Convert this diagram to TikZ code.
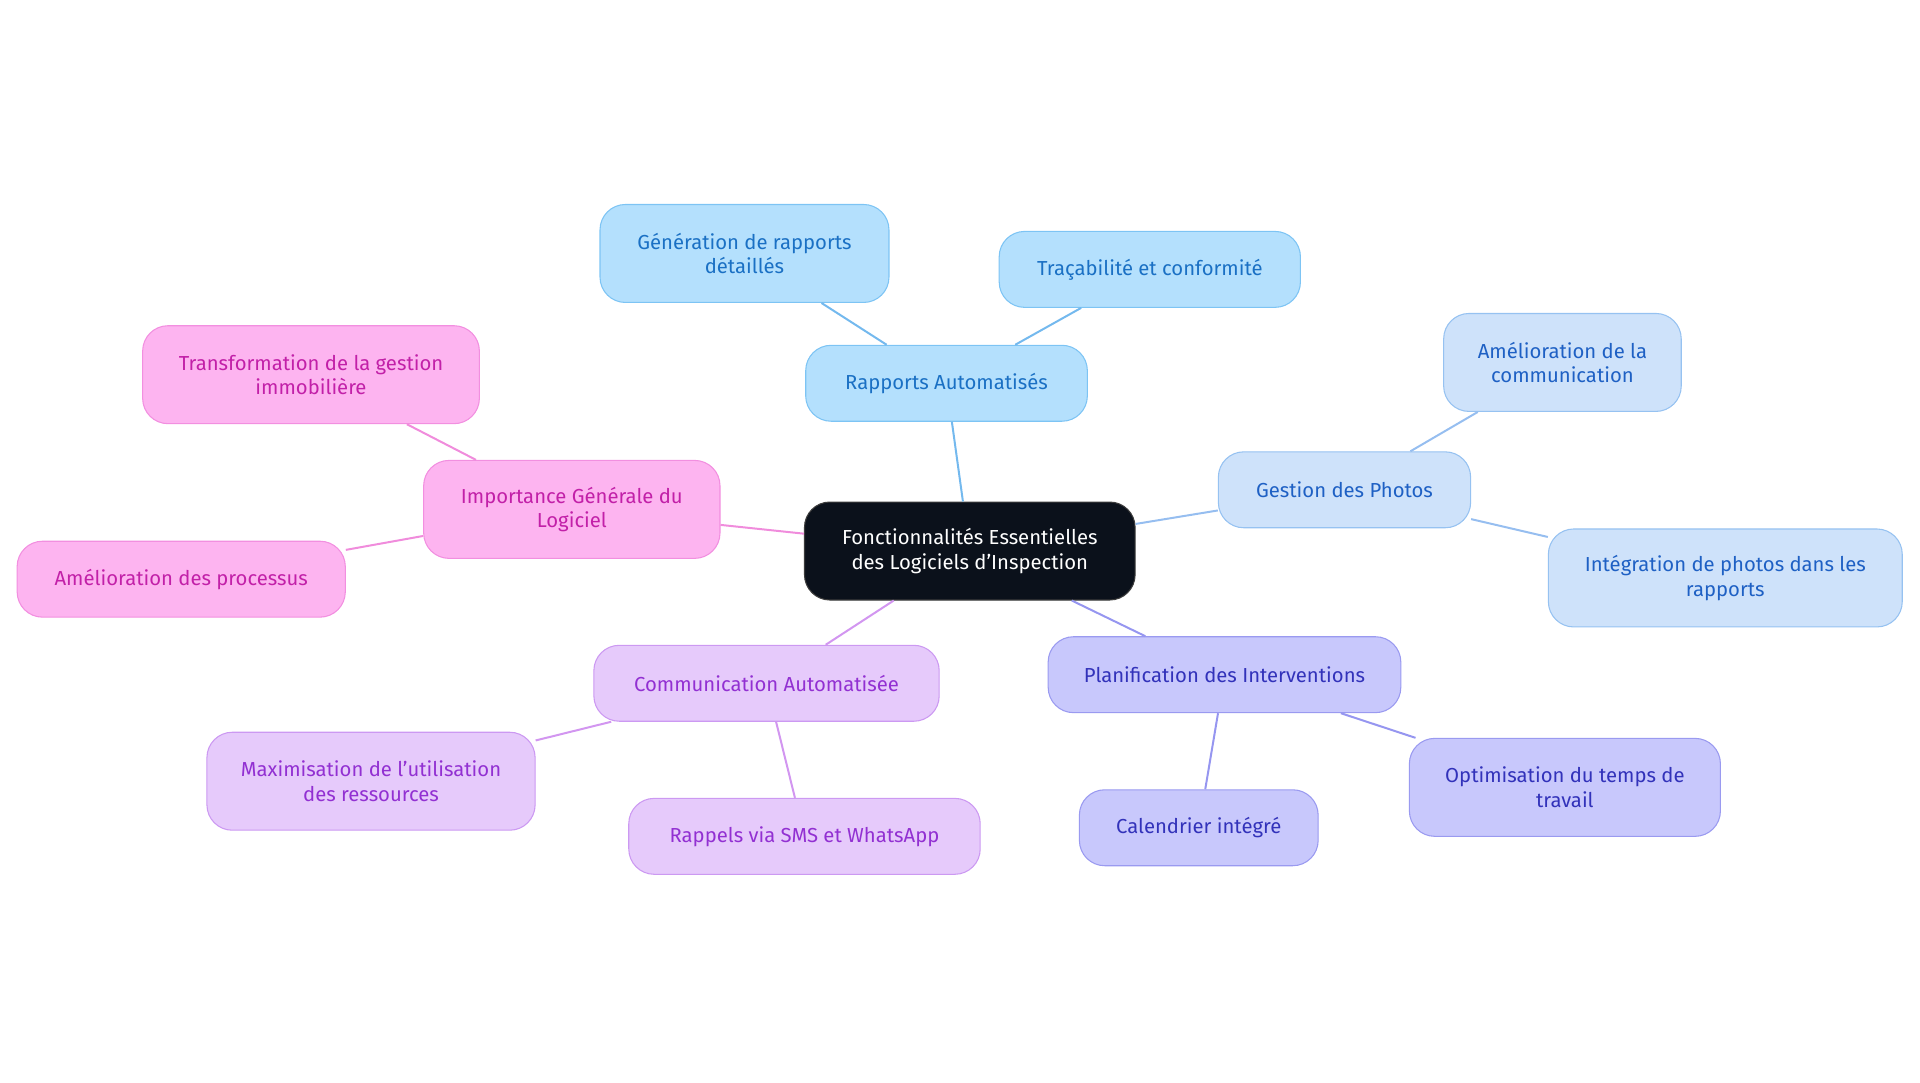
\documentclass[tikz,border=0pt]{standalone}
\usepackage{fontspec}
\setmainfont{Fira Sans}
\begin{document}
\begin{tikzpicture}[x=0.918pt,y=-0.918pt,
  box/.style={draw,rounded corners=19pt,align=center,line width=0.8pt,font=\fontsize{15.2}{18.5}\selectfont,inner sep=0pt},
  wh/.style 2 args={minimum width=#1*0.918pt,minimum height=#2*0.918pt},
  blue/.style={box,fill={rgb,255:red,180;green,224;blue,253},draw={rgb,255:red,125;green,196;blue,244},text={rgb,255:red,26;green,112;blue,196}},
  lblue/.style={box,fill={rgb,255:red,206;green,226;blue,250},draw={rgb,255:red,150;green,194;blue,241},text={rgb,255:red,30;green,96;blue,196}},
  indi/.style={box,fill={rgb,255:red,200;green,200;blue,252},draw={rgb,255:red,154;green,154;blue,240},text={rgb,255:red,50;green,50;blue,186}},
  purp/.style={box,fill={rgb,255:red,230;green,202;blue,251},draw={rgb,255:red,204;green,153;blue,242},text={rgb,255:red,146;green,48;blue,210}},
  pink/.style={box,fill={rgb,255:red,253;green,180;blue,240},draw={rgb,255:red,242;green,143;blue,224},text={rgb,255:red,194;green,32;blue,168}},
  ln/.style={line width=1.5pt}]
\path[use as bounding box] (0,0) rectangle (1568,884);
\node[box,fill={rgb,255:red,11;green,17;blue,27},draw={rgb,255:red,60;green,60;blue,60},text=white,wh={270}{80}] (c) at (792,450) {Fonctionnalités Essentielles\\des Logiciels d'Inspection};
\node[blue,wh={230}{62}] (ra) at (773,313) {Rapports Automatisés};
\node[blue,wh={236}{80}] (ra1) at (608,207) {Génération de rapports\\détaillés};
\node[blue,wh={246}{62}] (ra2) at (939,220) {Traçabilité et conformité};
\node[lblue,wh={206}{62}] (gp) at (1098,400) {Gestion des Photos};
\node[lblue,wh={194}{80}] (gp1) at (1276,296) {Amélioration de la\\communication};
\node[lblue,wh={289}{80}] (gp2) at (1409,472) {Intégration de photos dans les\\rapports};
\node[indi,wh={288}{62}] (pi) at (1000,551) {Planification des Interventions};
\node[indi,wh={195}{62}] (pi1) at (979,676) {Calendrier intégré};
\node[indi,wh={254}{80}] (pi2) at (1278,643) {Optimisation du temps de\\travail};
\node[purp,wh={282}{62}] (ca) at (626,558) {Communication Automatisée};
\node[purp,wh={268}{80}] (ca1) at (303,638) {Maximisation de l'utilisation\\des ressources};
\node[purp,wh={287}{62}] (ca2) at (657,683) {Rappels via SMS et WhatsApp};
\node[pink,wh={242}{80}] (ig) at (467,416) {Importance Générale du\\Logiciel};
\node[pink,wh={275}{80}] (ig1) at (254,306) {Transformation de la gestion\\immobilière};
\node[pink,wh={268}{62}] (ig2) at (148,473) {Amélioration des processus};
\draw[ln,draw={rgb,255:red,116;green,185;blue,238}] (c) -- (ra) (ra) -- (ra1) (ra) -- (ra2);
\draw[ln,draw={rgb,255:red,150;green,190;blue,240}] (c) -- (gp) (gp) -- (gp1) (gp) -- (gp2);
\draw[ln,draw={rgb,255:red,150;green,150;blue,240}] (c) -- (pi) (pi) -- (pi1) (pi) -- (pi2);
\draw[ln,draw={rgb,255:red,210;green,150;blue,240}] (c) -- (ca) (ca) -- (ca1) (ca) -- (ca2);
\draw[ln,draw={rgb,255:red,240;green,140;blue,220}] (c) -- (ig) (ig) -- (ig1) (ig) -- (ig2);
\end{tikzpicture}
\end{document}
